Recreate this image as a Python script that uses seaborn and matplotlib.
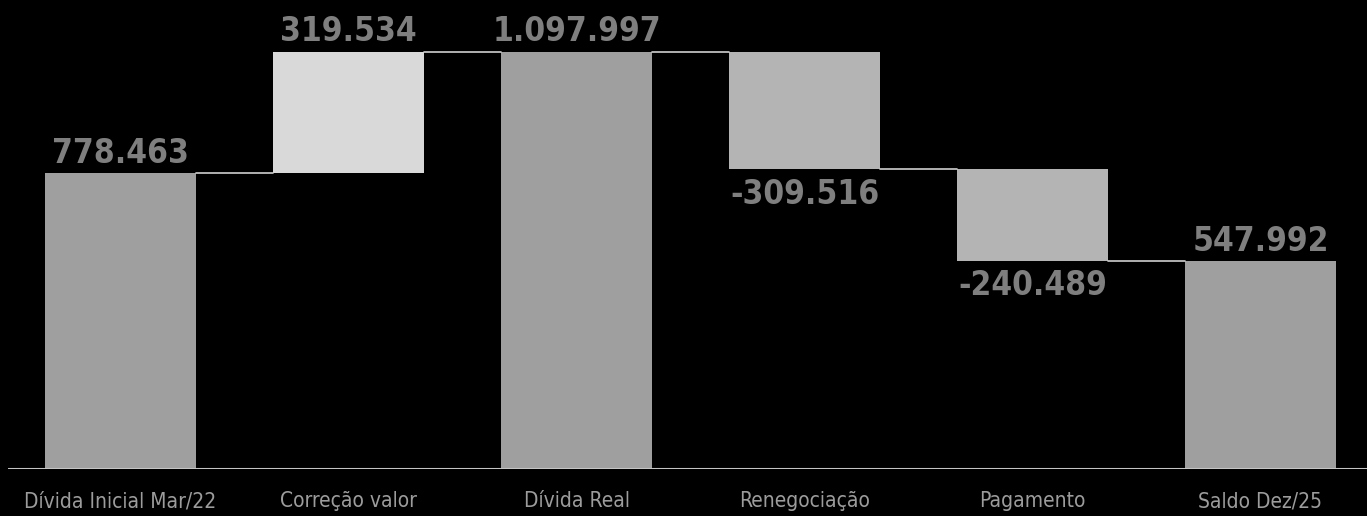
import numpy as np
import matplotlib.pyplot as plt
import seaborn as sns
import pandas as pd
from matplotlib import font_manager

# dados do waterfall
categorias = ['Dívida Inicial Mar/22', 'Correção valor', 'Dívida Real',
              'Renegociação', 'Pagamento', 'Saldo Dez/25']
valores = [778463, 319534, 1097997, -309516, -240489, 547992]
tipo = ['total', 'delta', 'total', 'delta', 'delta', 'total']
cores = ['#a09fa0', '#d9d9d9', '#a09fa0', '#b4b4b4', '#b4b4b4', '#a09fa0']

# base e topo de cada barra
base, topo = [], []
acum = 0
for v, t in zip(valores, tipo):
    if t == 'total':
        acum = v
        base.append(0)
        topo.append(v)
    else:
        base.append(min(acum, acum + v))
        topo.append(max(acum, acum + v))
        acum = acum + v

df = pd.DataFrame({'cat': categorias, 'topo': topo, 'base': base, 'valor': valores})

nomes = {f.name for f in font_manager.fontManager.ttflist}
fonte = 'Liberation Sans Narrow' if 'Liberation Sans Narrow' in nomes else 'DejaVu Sans'
estica = 'normal' if fonte == 'Liberation Sans Narrow' else 'condensed'

sns.set_style('dark')
plt.rcParams['font.family'] = [fonte, 'DejaVu Sans']

fig = plt.figure(figsize=(13.67, 5.16), dpi=100, facecolor='black')
ax = fig.add_axes([8 / 1367, 47 / 516, 1 - 8 / 1367, 469 / 516])
ax.set_facecolor('black')

sns.barplot(data=df, x='cat', y='topo', hue='cat', palette=cores, legend=False,
            width=0.66, saturation=1, edgecolor='none', linewidth=0, ax=ax)
for p, b, t in zip(ax.patches, df['base'], df['topo']):
    p.set_y(b)
    p.set_height(t - b)

# linhas de ligação
w = 0.66
for i in range(len(valores) - 1):
    nivel = topo[i] if (tipo[i] == 'total' or valores[i] > 0) else base[i]
    ax.plot([i + w / 2, i + 1 - w / 2], [nivel, nivel], color='#cfcfcf', lw=1.2)

# rótulos de valor
for i, v in enumerate(valores):
    txt = f"{v:,}".replace(',', '.')
    if v >= 0:
        ax.text(i, topo[i] + 8000, txt, ha='center', va='bottom', fontsize=24,
                fontweight='bold', color='#7f7f7f', fontstretch=estica)
    else:
        ax.text(i, base[i] - 22000, txt, ha='center', va='top', fontsize=24,
                fontweight='bold', color='#7f7f7f', fontstretch=estica)

ax.set_xlim(-(120.5 - 8) / 228, (1367 - 120.5) / 228)
ax.set_ylim(0, 469 / (296 / 778463))
ax.axhline(0, color='#c4c4c4', lw=2.2)
ax.set_xlabel('')
ax.set_ylabel('')
ax.set_yticks([])
ax.tick_params(axis='x', colors='#9c9c9c', labelsize=15, pad=16, length=0)
for lb in ax.get_xticklabels():
    lb.set_fontstretch(estica)
ax.grid(False)
for s in ax.spines.values():
    s.set_visible(False)

fig.savefig('out.png', dpi=100, facecolor='black')
